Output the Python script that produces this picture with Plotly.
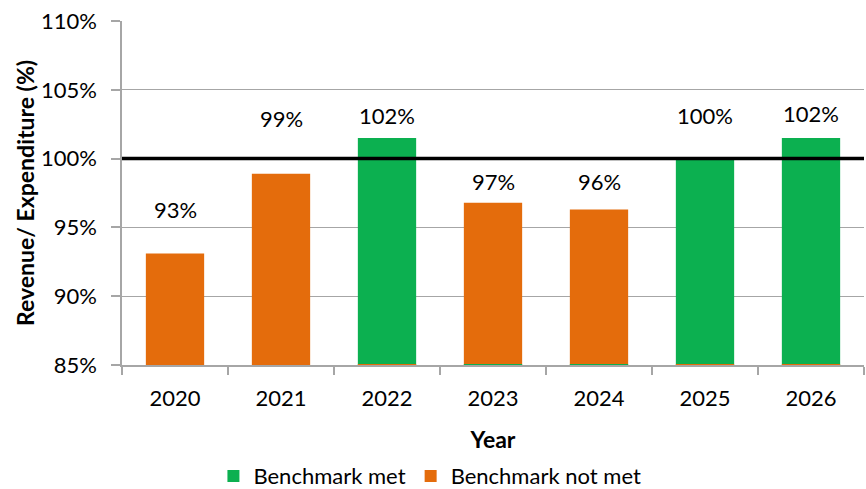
import plotly.graph_objects as go

years = ["2020", "2021", "2022", "2023", "2024", "2025", "2026"]
ratio = [93.1, 98.9, 101.5, 96.8, 96.3, 99.95, 101.5]
label_text = ["93%", "99%", "102%", "97%", "96%", "100%", "102%"]
label_y = [96.3, 102.95, 103.15, 98.3, 98.3, 103.15, 103.3]
met = [False, False, True, False, False, True, True]
# thin zero-height marks of the other series shown at bar bottoms
thin_other = [False, False, True, True, True, True, True]
benchmark = 100
y_ticks = [85, 90, 95, 100, 105, 110]
y_tick_labels = ["85%", "90%", "95%", "100%", "105%", "110%"]

GREEN = "#0CB050"
ORANGE = "#E46C0C"
GRID = "#A6A6A6"
FONT = "Lato"
FS = 22

fig = go.Figure()

met_y = [v if m else None for v, m in zip(ratio, met)]
not_y = [v if not m else None for v, m in zip(ratio, met)]

fig.add_trace(go.Bar(x=years, y=met_y, name="Benchmark met", marker_color=GREEN,
                     marker_line_width=0, width=0.55, showlegend=True))
fig.add_trace(go.Bar(x=years, y=not_y, name="Benchmark not met", marker_color=ORANGE,
                     marker_line_width=0, width=0.55, showlegend=True))

# thin lines at bar bottoms (zero-valued other series)
thin_g = [0.12 if (t and not m) else None for t, m in zip(thin_other, met)]
thin_o = [0.12 if (t and m) else None for t, m in zip(thin_other, met)]
fig.add_trace(go.Bar(x=years, y=thin_g, base=84.95, marker_color=GREEN, marker_line_width=0,
                     width=0.55, showlegend=False, hoverinfo="skip"))
fig.add_trace(go.Bar(x=years, y=thin_o, base=84.95, marker_color=ORANGE, marker_line_width=0,
                     width=0.55, showlegend=False, hoverinfo="skip"))

for i, (t, yy) in enumerate(zip(label_text, label_y)):
    fig.add_annotation(x=i, y=yy, text=t, showarrow=False,
                       font=dict(family=FONT, size=FS, color="#000000"))

fig.add_shape(type="line", xref="paper", yref="y", x0=0, x1=1, y0=benchmark, y1=benchmark,
              line=dict(color="#000000", width=3.5))

fig.update_layout(
    width=866, height=489,
    margin=dict(l=122, r=2, t=21, b=124, autoexpand=False),
    barmode="overlay",
    plot_bgcolor="white", paper_bgcolor="white",
    font=dict(family=FONT, size=FS, color="#000000"),
    showlegend=True,
    legend=dict(orientation="h", x=0.415, xanchor="center", y=-0.384, yanchor="bottom",
                font=dict(family=FONT, size=FS), traceorder="normal"),
    xaxis=dict(
        type="category", categoryorder="array", categoryarray=years,
        range=[-0.5, len(years) - 0.5], automargin=False,
        title=dict(text="<b>Year</b>", font=dict(family=FONT, size=23), standoff=22),
        showline=True, linecolor=GRID, linewidth=1.5,
        ticks="outside", tickson="boundaries", ticklen=8, tickcolor=GRID, tickwidth=1.5,
        tickfont=dict(family=FONT, size=FS), ticklabelstandoff=13,
        showgrid=False,
    ),
    yaxis=dict(
        title=dict(text="<b>Revenue/ Expenditure (%)</b>", font=dict(family=FONT, size=23), standoff=0),
        range=[85, 110], automargin=False,
        tickmode="array", tickvals=y_ticks, ticktext=y_tick_labels,
        showline=True, linecolor=GRID, linewidth=1.5,
        ticks="outside", ticklen=9, tickcolor=GRID, tickwidth=1.5,
        showgrid=True, gridcolor=GRID, gridwidth=1.2,
        tickfont=dict(family=FONT, size=FS), ticklabelstandoff=10,
        zeroline=False,
    ),
)

fig.write_html("out.html")
